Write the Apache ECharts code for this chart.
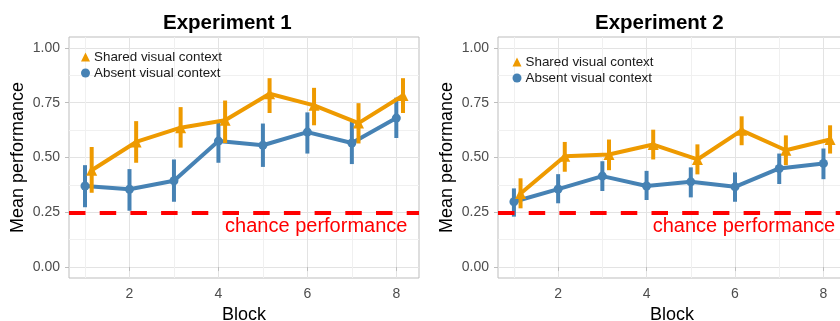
<!DOCTYPE html>
<html>
<head>
<meta charset="utf-8">
<script src="https://cdn.jsdelivr.net/npm/echarts@6/dist/echarts.min.js"></script>
<style>html,body{margin:0;padding:0;background:#fff;}#c{width:840px;height:321px;}</style>
</head>
<body>
<div id="c"></div>
<script>
const blocks = [1, 2, 3, 4, 5, 6, 7, 8];
const panelTitles = ['Experiment 1', 'Experiment 2'];
const seriesNames = ['Shared visual context', 'Absent visual context'];

const exp1Shared   = [0.442, 0.571, 0.636, 0.670, 0.791, 0.738, 0.657, 0.783];
const exp1SharedLo = [0.339, 0.476, 0.545, 0.566, 0.703, 0.647, 0.564, 0.703];
const exp1SharedHi = [0.548, 0.666, 0.730, 0.760, 0.862, 0.818, 0.748, 0.862];
const exp1Absent   = [0.370, 0.355, 0.394, 0.575, 0.556, 0.616, 0.566, 0.680];
const exp1AbsentLo = [0.273, 0.257, 0.298, 0.476, 0.457, 0.518, 0.470, 0.589];
const exp1AbsentHi = [0.465, 0.447, 0.491, 0.666, 0.655, 0.706, 0.662, 0.773];

const exp2Shared   = [0.336, 0.506, 0.514, 0.559, 0.491, 0.624, 0.533, 0.582];
const exp2SharedLo = [0.268, 0.435, 0.442, 0.491, 0.423, 0.556, 0.465, 0.518];
const exp2SharedHi = [0.405, 0.571, 0.582, 0.627, 0.560, 0.688, 0.601, 0.647];
const exp2Absent   = [0.298, 0.356, 0.415, 0.370, 0.389, 0.366, 0.450, 0.473];
const exp2AbsentLo = [0.230, 0.291, 0.347, 0.306, 0.318, 0.298, 0.379, 0.401];
const exp2AbsentHi = [0.359, 0.424, 0.483, 0.439, 0.455, 0.432, 0.518, 0.541];

const chanceLevel = 0.25;
const chanceLabel = 'chance performance';
const chanceLabelPos = [6.2, 0.187];
const xTickValues = [2, 4, 6, 8];
const xMinorValues = [1, 3, 5, 7];
const yTickValues = [0, 0.25, 0.5, 0.75, 1];
const yMinorValues = [0.125, 0.375, 0.625, 0.875];

const FONT = 'Liberation Sans, Arial, sans-serif';
const ORANGE = '#EE9A00';
const BLUE = '#4682B4';
const RED = '#FF0000';
const DODGE = 0.15;

const panels = [
  {shared: exp1Shared, sharedLo: exp1SharedLo, sharedHi: exp1SharedHi,
   absent: exp1Absent, absentLo: exp1AbsentLo, absentHi: exp1AbsentHi},
  {shared: exp2Shared, sharedLo: exp2SharedLo, sharedHi: exp2SharedHi,
   absent: exp2Absent, absentLo: exp2AbsentLo, absentHi: exp2AbsentHi}
];
const gridLayout = [
  {left: 69, top: 37, width: 350, height: 241},
  {left: 498, top: 37, width: 348, height: 241}
];
const titleLeft = [158, 590];
const legendPos = [{left: 81, top: 50}, {left: 512.5, top: 55}];

const grids = [], xAxes = [], yAxes = [], series = [], titles = [], legends = [];

panels.forEach((p, gi) => {
  grids.push(Object.assign({show: true, borderColor: '#BDBDBD', borderWidth: 1, backgroundColor: 'transparent',
    containLabel: false, outerBoundsMode: 'none'}, gridLayout[gi]));
  titles.push({text: panelTitles[gi], left: titleLeft[gi], top: 8,
    textStyle: {fontFamily: FONT, fontSize: 20.5, fontWeight: 'bold', color: '#000'}});
  legends.push({orient: 'vertical', left: legendPos[gi].left, top: legendPos[gi].top,
    itemWidth: 9, itemHeight: 9, itemGap: 2, padding: 0,
    selectedMode: false,
    textStyle: {fontFamily: FONT, fontSize: 13.4, color: '#1A1A1A', lineHeight: 14, padding: [0, 0, 0, -1]},
    data: [{name: seriesNames[0], icon: 'triangle', itemStyle: {color: ORANGE}},
           {name: seriesNames[1], icon: 'circle', itemStyle: {color: BLUE}}]});

  xAxes.push({type: 'value', gridIndex: gi, min: 0.64, max: 8.51, position: 'bottom',
    name: 'Block', nameLocation: 'middle', nameGap: 24,
    nameTextStyle: {fontFamily: FONT, fontSize: 18, color: '#000'},
    axisLine: {show: false},
    axisTick: {show: true, length: 4, lineStyle: {color: '#BDBDBD'}, customValues: xTickValues},
    axisLabel: {fontFamily: FONT, fontSize: 14, color: '#4D4D4D', margin: 9, customValues: xTickValues},
    splitLine: {show: true, lineStyle: {color: '#E3E3E3', width: 1}}});
  xAxes.push({type: 'value', gridIndex: gi, min: 0.64, max: 8.51, position: 'top',
    axisLine: {show: false}, axisLabel: {show: false},
    axisTick: {show: false, customValues: xMinorValues},
    splitLine: {show: true, lineStyle: {color: '#F0F0F0', width: 1}}});
  yAxes.push({type: 'value', gridIndex: gi, min: -0.05, max: 1.05, position: 'left',
    name: 'Mean performance', nameLocation: 'middle', nameGap: 42, nameRotate: 90,
    nameTextStyle: {fontFamily: FONT, fontSize: 18, color: '#000'},
    axisLine: {show: false},
    axisTick: {show: true, length: 4, lineStyle: {color: '#BDBDBD'}, customValues: yTickValues},
    axisLabel: {fontFamily: FONT, fontSize: 14, color: '#4D4D4D', margin: 9,
      customValues: yTickValues, formatter: v => v.toFixed(2)},
    splitLine: {show: true, lineStyle: {color: '#E3E3E3', width: 1}}});
  yAxes.push({type: 'value', gridIndex: gi, min: -0.05, max: 1.05, position: 'right',
    axisLine: {show: false}, axisLabel: {show: false},
    axisTick: {show: false, customValues: yMinorValues},
    splitLine: {show: true, lineStyle: {color: '#F0F0F0', width: 1}}});

  const xi = gi * 2, yi = gi * 2;
  const errSeries = (name, xs, lo, hi, color, z) => ({
    type: 'custom', name: name, xAxisIndex: xi, yAxisIndex: yi, z: z, silent: true,
    data: xs.map((x, i) => [x, lo[i], hi[i]]),
    encode: {x: 0, y: [1, 2]},
    renderItem: (params, api) => {
      const x = api.value(0);
      const a = api.coord([x, api.value(1)]);
      const b = api.coord([x, api.value(2)]);
      return {type: 'line', shape: {x1: a[0], y1: a[1], x2: b[0], y2: b[1]},
        style: {stroke: color, lineWidth: 4}};
    }
  });
  const absX = blocks.slice();
  const shX = blocks.map(b => b + DODGE);

  series.push({
    type: 'line', name: 'chance', xAxisIndex: xi, yAxisIndex: yi, data: [], z: 1, silent: true,
    markLine: {silent: true, symbol: ['none', 'none'], animation: false,
      label: {show: false},
      lineStyle: {color: RED, type: [16.5, 14.2], width: 4},
      data: [{yAxis: chanceLevel}]},
    markPoint: {silent: true, symbol: 'rect', symbolSize: 1, animation: false,
      itemStyle: {color: 'rgba(0,0,0,0)'},
      label: {show: true, position: 'inside', formatter: chanceLabel,
        fontFamily: FONT, fontSize: 20, color: RED},
      data: [{coord: chanceLabelPos}]}
  });
  series.push(errSeries(seriesNames[1], absX, p.absentLo, p.absentHi, BLUE, 2));
  series.push({type: 'line', name: seriesNames[1], xAxisIndex: xi, yAxisIndex: yi, z: 3,
    data: absX.map((x, i) => [x, p.absent[i]]),
    symbol: 'circle', symbolSize: 9, showSymbol: true,
    itemStyle: {color: BLUE}, lineStyle: {color: BLUE, width: 4}, animation: false});
  series.push(errSeries(seriesNames[0], shX, p.sharedLo, p.sharedHi, ORANGE, 4));
  series.push({type: 'line', name: seriesNames[0], xAxisIndex: xi, yAxisIndex: yi, z: 5,
    data: shX.map((x, i) => [x, p.shared[i]]),
    symbol: 'triangle', symbolSize: 11, showSymbol: true,
    itemStyle: {color: ORANGE}, lineStyle: {color: ORANGE, width: 4}, animation: false});
});

const chart = echarts.init(document.getElementById('c'), null, {renderer: 'canvas'});
chart.setOption({
  animation: false,
  backgroundColor: '#fff',
  title: titles,
  legend: legends,
  grid: grids,
  xAxis: xAxes,
  yAxis: yAxes,
  series: series
});
</script>
</body>
</html>
